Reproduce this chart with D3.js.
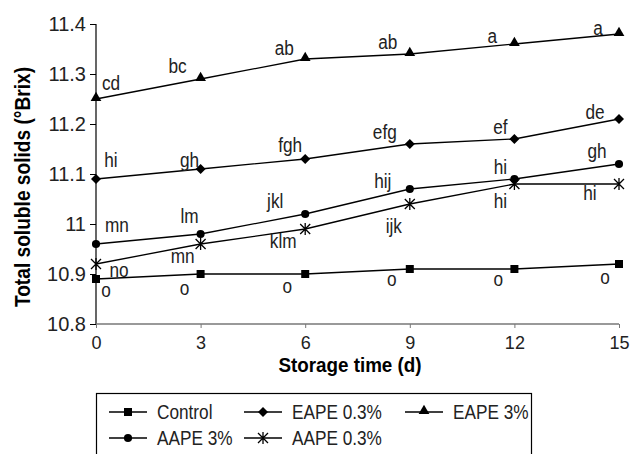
<!DOCTYPE html>
<html>
<head>
<meta charset="utf-8">
<script src="https://cdn.jsdelivr.net/npm/d3@7"></script>
<style>
  body { margin: 0; background: #fff; }
  text { font-family: "Liberation Sans", Arial, sans-serif; }
</style>
</head>
<body>
<div id="chart"></div>
<script>
// Data
var days = [0, 3, 6, 9, 12, 15];
var yTicks = [10.8, 10.9, 11, 11.1, 11.2, 11.3, 11.4];

var control = [10.89, 10.90, 10.90, 10.91, 10.91, 10.92];
var eape03 = [11.09, 11.11, 11.13, 11.16, 11.17, 11.21];
var eape3 = [11.25, 11.29, 11.33, 11.34, 11.36, 11.38];
var aape3 = [10.96, 10.98, 11.02, 11.07, 11.09, 11.12];
var aape03 = [10.92, 10.96, 10.99, 11.04, 11.08, 11.08];

var controlLetters = ["o", "o", "o", "o", "o", "o"];
var eape03Letters = ["hi", "gh", "fgh", "efg", "ef", "de"];
var eape3Letters = ["cd", "bc", "ab", "ab", "a", "a"];
var aape3Letters = ["mn", "lm", "jkl", "hij", "hi", "gh"];
var aape03Letters = ["no", "mn", "klm", "ijk", "hi", "hi"];

var seriesNames = ["Control", "EAPE 0.3%", "EAPE 3%", "AAPE 3%", "AAPE 0.3%"];

// Layout: where each letter sits relative to its point [dx, dy]
var controlOffsets = [[10, 18], [-16, 21], [-18, 19], [-18, 17], [-16, 17], [-14, 20]];
var eape03Offsets = [[15, -12], [-11, -2], [-15, -7], [-25, -5], [-14, -5], [-24, 0]];
var eape3Offsets = [[15, -9], [-23, -6], [-21, -4], [-22, -5], [-22, -1], [-21, 1]];
var aape3Offsets = [[21, -12], [-11, -11], [-30, -6], [-27, -1], [-14, -5], [-22, -6]];
var aape03Offsets = [[23, 13], [-18, 19], [-22, 19], [-16, 29], [-14, 24], [-29, 16]];

var series = [
    {name: seriesNames[0], values: control, letters: controlLetters, offsets: controlOffsets, marker: "square"},
    {name: seriesNames[1], values: eape03, letters: eape03Letters, offsets: eape03Offsets, marker: "diamond"},
    {name: seriesNames[2], values: eape3, letters: eape3Letters, offsets: eape3Offsets, marker: "triangle"},
    {name: seriesNames[3], values: aape3, letters: aape3Letters, offsets: aape3Offsets, marker: "circle"},
    {name: seriesNames[4], values: aape03, letters: aape03Letters, offsets: aape03Offsets, marker: "star"}
];

var width = 631, height = 454;
var margin = {top: 24, left: 96, right: 12, bottom: 130};

var svg = d3.select("#chart")
    .append("svg")
    .attr("width", width)
    .attr("height", height);

var x = d3.scaleLinear()
    .domain([0, 15])
    .range([margin.left, width - margin.right]);

var y = d3.scaleLinear()
    .domain([10.8, 11.4])
    .range([height - margin.bottom, margin.top]);

/**
 * Squeezes texts horizontally, the original uses a condensed face
 */
function condense(sel, f) {
    sel.each(function() {
        var w = this.getComputedTextLength();
        d3.select(this)
            .attr("textLength", w * f)
            .attr("lengthAdjust", "spacingAndGlyphs");
    });
}

/**
 * Draws one marker into the given selection
 */
function drawMarker(g, type, cx, cy) {
    if (type === "star") {
        var r = 5;
        g.append("path")
            .attr("d", "M" + (cx - r) + "," + (cy - r) + "L" + (cx + r) + "," + (cy + r) +
                "M" + (cx - r) + "," + (cy + r) + "L" + (cx + r) + "," + (cy - r) +
                "M" + cx + "," + (cy - r - 1) + "L" + cx + "," + (cy + r + 1))
            .attr("stroke", "#000")
            .attr("stroke-width", 1.3)
            .attr("fill", "none");
        return;
    }
    var sym, size, rot = 0, yShift = 0;
    if (type === "square") { sym = d3.symbolSquare; size = 64; }
    if (type === "diamond") { sym = d3.symbolSquare; size = 50; rot = 45; }
    if (type === "triangle") { sym = d3.symbolTriangle; size = 50; yShift = -1; }
    if (type === "circle") { sym = d3.symbolCircle; size = 52; }
    g.append("path")
        .attr("d", d3.symbol().type(sym).size(size)())
        .attr("transform", "translate(" + cx + "," + (cy + yShift) + ") rotate(" + rot + ")")
        .attr("fill", "#000");
}

// Axes
var yAxis = svg.append("g")
    .attr("transform", "translate(" + margin.left + ",0)")
    .call(d3.axisLeft(y).tickValues(yTicks).tickSize(6).tickPadding(4)
        .tickFormat(function(d) { return String(+d.toFixed(1)); }));
yAxis.select(".domain").attr("stroke", "#000").attr("stroke-width", 1.2).attr("d", "M0," + y(11.4) + "V" + y(10.8));
yAxis.selectAll(".tick line").attr("stroke", "#000").attr("stroke-width", 1);
yAxis.selectAll(".tick text")
    .attr("font-size", 20)
    .attr("fill", "#222");

var xAxis = svg.append("g")
    .attr("transform", "translate(0," + y(10.8) + ")")
    .call(d3.axisBottom(x).tickValues(days).tickSize(4).tickPadding(8));
xAxis.select(".domain").attr("stroke", "#777").attr("stroke-width", 1.6).attr("d", "M" + x(0) + ",0H" + x(15));
xAxis.selectAll(".tick line").attr("stroke", "#777");
xAxis.selectAll(".tick text")
    .attr("font-size", 19)
    .attr("fill", "#222")
    .call(condense, 0.95);

// Axis titles
svg.append("text")
    .attr("transform", "translate(30," + 187 + ") rotate(-90)")
    .attr("text-anchor", "middle")
    .attr("font-size", 22)
    .attr("font-weight", "bold")
    .text("Total soluble solids (°Brix)")
    .call(condense, 0.87);

svg.append("text")
    .attr("x", 350)
    .attr("y", 372)
    .attr("text-anchor", "middle")
    .attr("font-size", 20)
    .attr("font-weight", "bold")
    .text("Storage time (d)")
    .call(condense, 0.94);

// Lines, markers and letters
var line = d3.line()
    .x(function(d, i) { return x(days[i]); })
    .y(function(d) { return y(d); });

series.forEach(function(s) {
    var g = svg.append("g");
    g.append("path")
        .attr("d", line(s.values))
        .attr("fill", "none")
        .attr("stroke", "#000")
        .attr("stroke-width", 1.3);
    s.values.forEach(function(v, i) {
        drawMarker(g, s.marker, x(days[i]), y(v));
        g.append("text")
            .attr("x", x(days[i]) + s.offsets[i][0])
            .attr("y", y(v) + s.offsets[i][1])
            .attr("text-anchor", "middle")
            .attr("font-size", 20)
            .attr("fill", "#222")
            .text(s.letters[i])
            .call(condense, 0.86);
    });
});

// Legend
var legend = svg.append("g");
legend.append("rect")
    .attr("x", 96.5)
    .attr("y", 393.5)
    .attr("width", 435)
    .attr("height", 80)
    .attr("fill", "none")
    .attr("stroke", "#000")
    .attr("stroke-width", 1.2);

var legendCols = [109, 244, 405];
var legendRows = [412, 438];
series.forEach(function(s, i) {
    var lx = legendCols[i % 3], ly = legendRows[Math.floor(i / 3)];
    legend.append("line")
        .attr("x1", lx).attr("x2", lx + 38)
        .attr("y1", ly).attr("y2", ly)
        .attr("stroke", "#000")
        .attr("stroke-width", 1.3);
    drawMarker(legend, s.marker, lx + 19, ly);
    legend.append("text")
        .attr("x", lx + 48)
        .attr("y", ly + 7)
        .attr("font-size", 20)
        .attr("fill", "#222")
        .text(s.name)
        .call(condense, 0.86);
});
</script>
</body>
</html>
